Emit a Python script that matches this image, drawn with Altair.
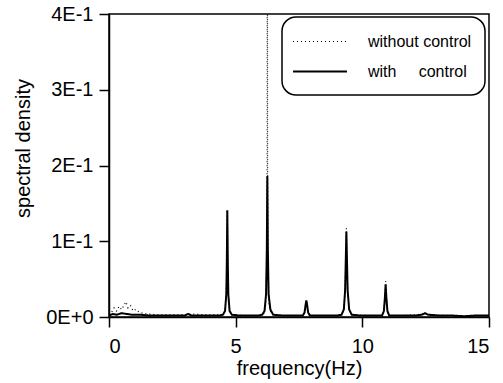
import altair as alt
import pandas as pd

# --- data ---
freq_with = [0.0, 0.15, 0.3, 0.5, 0.7, 0.9, 1.2, 1.6, 2.0, 2.4, 2.8, 3.0, 3.12, 3.25, 3.6, 4.0, 4.35,
             4.50, 4.58, 4.63, 4.65, 4.67, 4.69, 4.71, 4.76, 4.85, 5.1, 5.5, 5.9,
             6.05, 6.14, 6.20, 6.23, 6.25, 6.27, 6.30, 6.37, 6.48, 6.8, 7.2, 7.5,
             7.65, 7.72, 7.76, 7.79, 7.82, 7.86, 7.93, 8.2, 8.6, 9.0,
             9.18, 9.27, 9.32, 9.35, 9.37, 9.39, 9.42, 9.48, 9.58, 9.9, 10.3, 10.6,
             10.78, 10.85, 10.89, 10.92, 10.95, 10.99, 11.06, 11.3, 11.7, 12.1, 12.35, 12.47, 12.6,
             13.0, 13.5, 14.0, 14.5, 15.0]
val_with = [0.002, 0.004, 0.003, 0.005, 0.004, 0.003, 0.003, 0.002, 0.002, 0.002, 0.002, 0.002, 0.004, 0.002, 0.002, 0.002, 0.002,
            0.003, 0.008, 0.03, 0.07, 0.141, 0.07, 0.03, 0.008, 0.003, 0.002, 0.002, 0.002,
            0.003, 0.008, 0.03, 0.09, 0.186, 0.09, 0.03, 0.01, 0.003, 0.002, 0.002, 0.002,
            0.002, 0.006, 0.016, 0.022, 0.016, 0.006, 0.002, 0.002, 0.002, 0.002,
            0.003, 0.01, 0.035, 0.08, 0.113, 0.08, 0.035, 0.01, 0.003, 0.002, 0.002, 0.002,
            0.002, 0.008, 0.025, 0.043, 0.025, 0.008, 0.002, 0.002, 0.002, 0.002, 0.003, 0.005, 0.003,
            0.002, 0.002, 0.001, 0.002, 0.002]

freq_without = [0.0, 0.1, 0.2, 0.3, 0.4, 0.5, 0.6, 0.67, 0.75, 0.85, 0.95, 1.05, 1.2, 1.5, 1.9, 2.4, 2.9, 3.3, 3.7, 4.2,
                4.50, 4.58, 4.63, 4.65, 4.67, 4.69, 4.71, 4.76, 4.85, 5.3, 5.9,
                6.10, 6.18, 6.22, 6.24, 6.25, 6.26, 6.28, 6.32, 6.40, 6.8, 7.4,
                7.65, 7.72, 7.76, 7.79, 7.82, 7.86, 7.93, 8.4, 9.0,
                9.18, 9.27, 9.32, 9.35, 9.37, 9.39, 9.42, 9.48, 9.58, 10.1, 10.6,
                10.78, 10.85, 10.89, 10.92, 10.95, 10.99, 11.06, 11.7, 12.47, 13.2, 14.0, 15.0]
val_without = [0.003, 0.006, 0.012, 0.008, 0.014, 0.010, 0.016, 0.020, 0.012, 0.015, 0.008, 0.010, 0.006, 0.004, 0.003, 0.003, 0.003, 0.004, 0.003, 0.003,
               0.003, 0.008, 0.03, 0.07, 0.141, 0.07, 0.03, 0.008, 0.003, 0.002, 0.002,
               0.004, 0.015, 0.06, 0.2, 0.7, 0.2, 0.06, 0.015, 0.004, 0.002, 0.002,
               0.002, 0.006, 0.016, 0.022, 0.016, 0.006, 0.002, 0.002, 0.002,
               0.003, 0.01, 0.035, 0.08, 0.117, 0.08, 0.035, 0.01, 0.003, 0.002, 0.002,
               0.002, 0.008, 0.025, 0.047, 0.025, 0.008, 0.002, 0.002, 0.004, 0.002, 0.002, 0.002]

series_names = ["without control", "with\u00a0\u00a0\u00a0\u00a0 control"]
x_ticks = [0, 5, 10, 15]
y_ticks = [0, 0.1, 0.2, 0.3, 0.4]
y_tick_labels = ["0E+0", "1E-1", "2E-1", "3E-1", "4E-1"]

df = pd.concat([
    pd.DataFrame({"freq": freq_without, "val": val_without, "series": series_names[0]}),
    pd.DataFrame({"freq": freq_with, "val": val_with, "series": series_names[1]}),
])

FONT = "Liberation Sans"
label_expr = "[" + ",".join("'%s'" % s for s in y_tick_labels) + "][round(datum.value*10)]"

lines = alt.Chart(df).mark_line(clip=True).encode(
    x=alt.X("freq:Q", scale=alt.Scale(domain=[0, 15], nice=False),
            axis=alt.Axis(values=x_ticks, title="frequency(Hz)", format="d",
                          titleX=190, titleY=41)),
    y=alt.Y("val:Q", scale=alt.Scale(domain=[0, 0.4], nice=False),
            axis=alt.Axis(values=y_ticks, title="spectral density", labelExpr=label_expr,
                          titleX=-76, titleY=134)),
    color=alt.Color("series:N", scale=alt.Scale(domain=series_names, range=["black", "black"]),
                    legend=None),
    strokeDash=alt.StrokeDash("series:N", scale=alt.Scale(domain=series_names, range=[[1, 3], [1, 0]]),
                              legend=None),
    strokeWidth=alt.StrokeWidth("series:N", scale=alt.Scale(domain=series_names, range=[1.2, 2]),
                                legend=None),
)

one = pd.DataFrame({"k": [0]})
leg_box = alt.Chart(one).mark_rect(cornerRadius=14, fill="white", stroke="black", strokeWidth=1.5).encode(
    x=alt.value(173), x2=alt.value(376), y=alt.value(3), y2=alt.value(81))
leg_dot = alt.Chart(one).mark_rule(color="black", strokeWidth=1.2, strokeDash=[1, 3]).encode(
    x=alt.value(184), x2=alt.value(238), y=alt.value(27.5))
leg_solid = alt.Chart(one).mark_rule(color="black", strokeWidth=2).encode(
    x=alt.value(184), x2=alt.value(238), y=alt.value(57.5))
leg_t1 = alt.Chart(one).mark_text(font=FONT, fontSize=16, color="black", align="left", baseline="middle").encode(
    x=alt.value(259), y=alt.value(27.5), text=alt.value(series_names[0]))
leg_t2 = alt.Chart(one).mark_text(font=FONT, fontSize=16, color="black", align="left", baseline="middle").encode(
    x=alt.value(259), y=alt.value(57.5), text=alt.value(series_names[1]))

chart = alt.layer(lines, leg_box, leg_dot, leg_solid, leg_t1, leg_t2).properties(
    width=380, height=303,
    autosize=alt.AutoSizeParams(type="none"),
    padding={"left": 109, "top": 14, "right": 14, "bottom": 66},
).configure_view(
    stroke="black", strokeWidth=1.5
).configure_axis(
    grid=False, domainColor="black", domainWidth=1.5, tickColor="black", tickWidth=1.5,
    tickSize=10, labelFont=FONT, labelFontSize=20, labelColor="black", labelPadding=6,
    titleFont=FONT, titleFontSize=20, titleColor="black", titleFontWeight="normal",
).configure_axisX(
    labelPadding=9
)

chart.save("out.html", embed_options={"renderer": "svg", "actions": False})
